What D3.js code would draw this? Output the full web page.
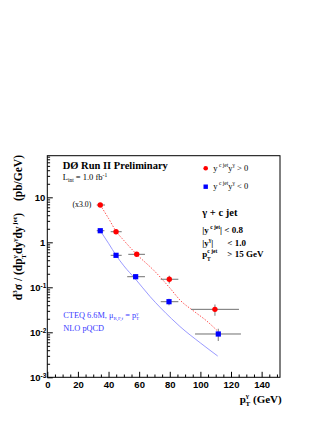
<!DOCTYPE html>
<html>
<head>
<meta charset="utf-8">
<script src="https://cdn.jsdelivr.net/npm/d3@7"></script>
<style>
  body { margin: 0; background: #fff; }
  .serif { font-family: "Liberation Serif", "Times New Roman", serif; }
  .axis text { font-family: "Liberation Sans", Arial, sans-serif; font-weight: bold; font-size: 9.5px; fill: #000; }
  .axis line { stroke: #000; stroke-width: 1; }
</style>
</head>
<body>
<script>
// data
var redX   = [34.6, 44.9, 58.4, 79.7, 109.5];
var redY   = [6.75, 1.72, 0.541, 0.151, 0.0324];
var redXlo = [32.3, 41.4, 52.9, 74.1, 93.9];
var redXhi = [37.7, 48.6, 63.8, 85.6, 125.2];
var redErr = [0.4, 0.12, 0.05, 0.03, 0.009];

var blueX   = [34.6, 44.9, 57.7, 79.5, 111.7];
var blueY   = [1.81, 0.514, 0.172, 0.0479, 0.00917];
var blueXlo = [32.3, 41.4, 52.2, 74.1, 96.5];
var blueXhi = [37.3, 48.6, 63.8, 85.6, 126.5];
var blueErr = [0.1, 0.04, 0.02, 0.008, 0.0028];

// NLO curves
var redTheoryX = [34.6, 40, 45, 50, 58.4, 70, 80, 86.7, 96, 104, 111.7];
var redTheoryY = [6.75, 3.4, 1.75, 1.1, 0.54, 0.23, 0.097, 0.052, 0.029, 0.018, 0.0103];
var blueTheoryX = [34.6, 40, 45, 50, 57.7, 67, 81.2, 86.6, 100, 111.3];
var blueTheoryY = [1.81, 0.95, 0.51, 0.30, 0.151, 0.063, 0.020, 0.0135, 0.0058, 0.00297];

var xMajor = [0, 20, 40, 60, 80, 100, 120, 140];
var yMajor = [1e-3, 1e-2, 1e-1, 1, 10];
var yLabels = [["10", "-3"], ["10", "-2"], ["10", "-1"], ["1", ""], ["10", ""]];

var W = 327, H = 423;
var fLeft = 47.3, fRight = 280, fTop = 155.7, fBottom = 377.3;

var svg = d3.select("body").append("svg")
  .attr("width", W).attr("height", H);

var x = d3.scaleLinear().domain([0, 152]).range([fLeft, fRight]);
var y = d3.scaleLog().domain([1e-3, Math.pow(10, 1.925)]).range([fBottom, fTop]);

// minor ticks
var xMinor = d3.range(0, 152, 5).filter(function(v) { return v % 20 != 0; });
var yMinor = [];
for (var e = -3; e <= 1; e++) {
  for (var m = 2; m <= 9; m++) {
    var v = m * Math.pow(10, e);
    if (v < y.domain()[1]) yMinor.push(v);
  }
}

//Axes
var xAxis = svg.append("g").attr("class", "axis")
  .attr("transform", "translate(0," + fBottom + ")")
  .call(d3.axisBottom(x).tickValues(xMajor).tickSize(-5.5).tickPadding(4).tickFormat(d3.format("d")));
svg.append("g").attr("class", "axis")
  .attr("transform", "translate(0," + fBottom + ")")
  .call(d3.axisBottom(x).tickValues(xMinor).tickSize(-2.8).tickFormat(""));

var yAxis = svg.append("g").attr("class", "axis")
  .attr("transform", "translate(" + fLeft + ",0)")
  .call(d3.axisLeft(y).tickValues(yMajor).tickSize(-5.5).tickPadding(2));
svg.append("g").attr("class", "axis")
  .attr("transform", "translate(" + fLeft + ",0)")
  .call(d3.axisLeft(y).tickValues(yMinor).tickSize(-2.8).tickFormat(""));

svg.selectAll(".axis .domain").remove();

yAxis.selectAll(".tick text").each(function(d, i) {
  var t = d3.select(this).text("");
  t.append("tspan").text(yLabels[i][0]);
  if (yLabels[i][1]) {
    t.attr("x", 0).attr("dx", -1);
    t.append("tspan").attr("dy", "-0.45em").style("font-size", "6.5px").text(yLabels[i][1]);
  }
});

// frame
svg.append("rect")
  .attr("x", fLeft).attr("y", fTop)
  .attr("width", fRight - fLeft).attr("height", fBottom - fTop)
  .attr("fill", "none").attr("stroke", "#000").attr("stroke-width", 1);

// theory curves
var line = d3.line().x(function(d) { return x(d[0]); }).y(function(d) { return y(d[1]); })
  .curve(d3.curveMonotoneX);

svg.append("path")
  .datum(d3.zip(redTheoryX, redTheoryY))
  .attr("d", line)
  .attr("fill", "none").attr("stroke", "#ff4040").attr("stroke-width", 0.9)
  .attr("stroke-dasharray", "1.5,1.5");

svg.append("path")
  .datum(d3.zip(blueTheoryX, blueTheoryY))
  .attr("d", line)
  .attr("fill", "none").attr("stroke", "#8080ff").attr("stroke-width", 0.8);

//Draw points with errors
function drawSeries(xs, ys, lo, hi, err, color, shape) {
  var g = svg.append("g");
  var data = xs.map(function(v, i) { return {x: v, y: ys[i], lo: lo[i], hi: hi[i], e: err[i]}; });
  g.selectAll(".hbar").data(data).enter().append("line")
    .attr("x1", function(d) { return x(d.lo); })
    .attr("x2", function(d) { return x(d.hi); })
    .attr("y1", function(d) { return y(d.y); })
    .attr("y2", function(d) { return y(d.y); })
    .attr("stroke", "#707070").attr("stroke-width", 1);
  g.selectAll(".vbar").data(data).enter().append("line")
    .attr("x1", function(d) { return x(d.x); })
    .attr("x2", function(d) { return x(d.x); })
    .attr("y1", function(d) { return y(d.y - d.e); })
    .attr("y2", function(d) { return y(d.y + d.e); })
    .attr("stroke", "#909090").attr("stroke-width", 1.2);
  if (shape == "circle") {
    g.selectAll("circle").data(data).enter().append("circle")
      .attr("cx", function(d) { return x(d.x); })
      .attr("cy", function(d) { return y(d.y); })
      .attr("r", 2.7).attr("fill", color);
  } else {
    g.selectAll("rect").data(data).enter().append("rect")
      .attr("x", function(d) { return x(d.x) - 2.6; })
      .attr("y", function(d) { return y(d.y) - 2.6; })
      .attr("width", 5.2).attr("height", 5.2).attr("fill", color);
  }
}
drawSeries(redX, redY, redXlo, redXhi, redErr, "#ff0000", "circle");
drawSeries(blueX, blueY, blueXlo, blueXhi, blueErr, "#0000ff", "square");

// texts
function txt(xp, yp, size, weight, color) {
  return svg.append("text").attr("class", "serif")
    .attr("x", xp).attr("y", yp)
    .style("font-size", size + "px").style("font-weight", weight || "normal")
    .attr("fill", color || "#000");
}

txt(62.7, 169, 10.5, "bold").text("DØ Run II Preliminary");

var lint = txt(62.7, 180, 8.5);
lint.append("tspan").text("L");
lint.append("tspan").attr("dy", 1.8).style("font-size", "5.5px").text("int");
lint.append("tspan").attr("dy", -1.8).text(" = 1.0 fb");
lint.append("tspan").attr("dy", -3.5).style("font-size", "5.5px").text("-1");

txt(72.5, 207, 7.8).text("(x3.0)");

// legend
svg.append("circle").attr("cx", 205.7).attr("cy", 168.3).attr("r", 2.3).attr("fill", "#ff0000");
svg.append("rect").attr("x", 203.5).attr("y", 184.5).attr("width", 4.4).attr("height", 4.4).attr("fill", "#0000ff");
function legText(yp, rel) {
  var t = txt(213.3, yp, 8.5);
  t.append("tspan").text("y");
  t.append("tspan").attr("dy", -3.5).style("font-size", "5.5px").text(" c jet");
  t.append("tspan").attr("dy", 3.5).text("y");
  t.append("tspan").attr("dy", -3.5).style("font-size", "5.5px").text("γ");
  t.append("tspan").attr("dy", 3.5).text(" " + rel + " 0");
}
legText(170.7, ">");
legText(188.7, "<");

txt(202.3, 216, 10.5, "bold").text("γ + c jet");

var c1 = txt(202.3, 232.7, 9, "bold");
c1.append("tspan").text("|y");
c1.append("tspan").attr("dy", -3.8).style("font-size", "5.5px").text(" c jet");
c1.append("tspan").attr("dy", 3.8).text("| < 0.8");

var c2 = txt(202.3, 246, 9, "bold");
c2.append("tspan").text("|y");
c2.append("tspan").attr("dy", -3.8).style("font-size", "5.5px").text("γ");
c2.append("tspan").attr("dy", 3.8).text("|");
c2.append("tspan").attr("x", 227.3).text("< 1.0");

var c3 = txt(202.3, 257.3, 9, "bold");
c3.append("tspan").text("p");
c3.append("tspan").attr("dy", -3.8).style("font-size", "5.5px").text("c jet");
c3.append("tspan").attr("x", 207).attr("dy", 7.2).style("font-size", "5.5px").text("T");
c3.append("tspan").attr("x", 227.3).attr("dy", -3.4).text("> 15 GeV");

// NLO label
var n1 = txt(63.3, 318.3, 8.3, "normal", "#3a3aff");
n1.append("tspan").text("CTEQ 6.6M, μ");
n1.append("tspan").attr("dy", 2).style("font-size", "5px").text("R,F,f");
n1.append("tspan").attr("dy", -2).text(" = p");
n1.append("tspan").attr("dy", -3.5).style("font-size", "5px").text("γ");
n1.append("tspan").attr("dx", -2.5).attr("dy", 5.5).style("font-size", "5px").text("T");
txt(63.3, 331, 8.3, "normal", "#3a3aff").text("NLO pQCD");

// x title
var xt = txt(281.7, 402.7, 11, "bold").attr("text-anchor", "end");
xt.append("tspan").text("p");
xt.append("tspan").attr("dy", -5).style("font-size", "7px").text("γ");
xt.append("tspan").attr("dx", -3.5).attr("dy", 8.5).style("font-size", "7px").text("T");
xt.append("tspan").attr("dy", -3.5).text(" (GeV)");

// y title
var yt = svg.append("text").attr("class", "serif")
  .attr("transform", "translate(22,155) rotate(-90)")
  .attr("text-anchor", "end")
  .style("font-size", "11.5px").style("font-weight", "bold");
yt.append("tspan").text("d");
yt.append("tspan").attr("dy", -5).style("font-size", "7px").text("3");
yt.append("tspan").attr("dy", 5).text("σ / (dp");
yt.append("tspan").attr("dy", -5).style("font-size", "7px").text("γ");
yt.append("tspan").attr("dx", -3.5).attr("dy", 8.5).style("font-size", "7px").text("T");
yt.append("tspan").attr("dy", -3.5).text("dy");
yt.append("tspan").attr("dy", -5).style("font-size", "7px").text("γ");
yt.append("tspan").attr("dy", 5).text("dy");
yt.append("tspan").attr("dy", -5).style("font-size", "7px").text(" jet");
yt.append("tspan").attr("dy", 5).text(")");
yt.append("tspan").attr("dx", 12).text("(pb/GeV)");
</script>
</body>
</html>
